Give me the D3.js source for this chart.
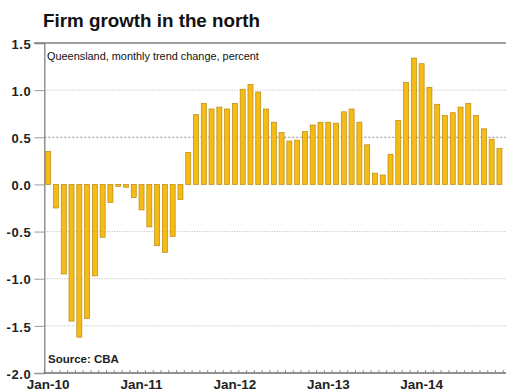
<!DOCTYPE html>
<html>
<head>
<meta charset="utf-8">
<script src="https://cdn.jsdelivr.net/npm/d3@7/dist/d3.min.js"></script>
<style>
  html, body { margin: 0; padding: 0; background: #fff; }
  svg { display: block; font-family: "Liberation Sans", Arial, sans-serif; }
</style>
</head>
<body>
<svg id="chart" width="506" height="392"></svg>
<script>
// Queensland firm growth, monthly trend change (%), Jan-10 .. Nov-14
const months = d3.timeMonths(new Date(2010, 0, 1), new Date(2014, 11, 1));
const values = [
  0.35, -0.25, -0.95, -1.45, -1.62, -1.42, -0.97, -0.56, -0.19, -0.02, -0.03, -0.14,
  -0.27, -0.45, -0.65, -0.72, -0.55, -0.16, 0.34, 0.74, 0.86, 0.80, 0.82, 0.80,
  0.86, 1.01, 1.06, 0.98, 0.80, 0.66, 0.55, 0.46, 0.47, 0.56, 0.63, 0.66,
  0.66, 0.65, 0.77, 0.80, 0.66, 0.42, 0.12, 0.10, 0.32, 0.68, 1.08, 1.34,
  1.28, 1.03, 0.85, 0.73, 0.76, 0.82, 0.86, 0.73, 0.59, 0.48, 0.38
];
const yTicks = [1.5, 1.0, 0.5, 0.0, -0.5, -1.0, -1.5, -2.0];
const gridValues = [1.0, 0.5, -0.5, -1.0, -1.5];
const monthLabel = d3.timeFormat("%b-%y");

const titleText = "Firm growth in the north";
const subtitleText = "Queensland, monthly trend change, percent";
const sourceText = "Source: CBA";

const svg = d3.select("#chart");
const plotLeft = 44.3, plotTop = 43, plotBottom = 373;
const step = 7.78;
const plotRight = plotLeft + step * months.length;

const x = d3.scaleBand()
  .domain(months.map((d, i) => i))
  .range([plotLeft, plotRight])
  .paddingInner(0.357)
  .paddingOuter(0.1785);

const y = d3.scaleLinear().domain([-2, 1.5]).range([plotBottom, plotTop]);

// title
svg.append("text")
  .attr("x", 43).attr("y", 27)
  .attr("font-size", 18.8).attr("font-weight", "bold").attr("fill", "#111")
  .text(titleText);

// dotted gridlines
svg.append("g").selectAll("line").data(gridValues).join("line")
  .attr("x1", plotLeft).attr("x2", 506)
  .attr("y1", d => y(d)).attr("y2", d => y(d))
  .attr("stroke", d => d === 0.5 ? "#8a8a8a" : "#b8b8b8")
  .attr("stroke-width", 1)
  .attr("stroke-dasharray", d => d === 0.5 ? "2,2" : "1,1.5");

// bars
svg.append("g").selectAll("rect").data(values).join("rect")
  .attr("x", (d, i) => x(i))
  .attr("width", x.bandwidth())
  .attr("y", d => y(Math.max(0, d)))
  .attr("height", d => Math.abs(y(d) - y(0)))
  .attr("fill", "#F6BB14")
  .attr("stroke", "#B8890D")
  .attr("stroke-width", 0.7);

// y axis with outside ticks and bold labels (plain hyphen for negatives)
const yAxis = d3.axisLeft(y).tickValues(yTicks).tickSize(10).tickPadding(3)
  .tickFormat(d => d.toFixed(1));
const gy = svg.append("g").attr("transform", `translate(${plotLeft},0)`).call(yAxis);
gy.select(".domain").attr("stroke", "#808080").attr("stroke-width", 1.3);
gy.selectAll(".tick line").attr("stroke", "#9a9a9a").attr("stroke-width", 1);
gy.selectAll(".tick text")
  .attr("font-size", 13).attr("font-weight", "bold").attr("fill", "#222")
  .attr("font-family", "Liberation Sans, Arial, sans-serif")
  .attr("letter-spacing", 0.6)
  .attr("dy", "0.4em");

// top frame line
svg.append("line")
  .attr("x1", plotLeft - 10).attr("x2", 506)
  .attr("y1", plotTop).attr("y2", plotTop)
  .attr("stroke", "#808080").attr("stroke-width", 1.3);

// x axis: monthly inner ticks, labels each January
const gx = svg.append("g");
gx.append("line")
  .attr("x1", plotLeft).attr("x2", 506)
  .attr("y1", plotBottom).attr("y2", plotBottom)
  .attr("stroke", "#6e6e6e").attr("stroke-width", 1.3);
gx.selectAll("line.mt").data(d3.range(months.length + 1)).join("line")
  .attr("class", "mt")
  .attr("x1", i => plotLeft + i * step).attr("x2", i => plotLeft + i * step)
  .attr("y1", plotBottom).attr("y2", plotBottom - 3)
  .attr("stroke", "#7a7a7a").attr("stroke-width", 0.8);
const janIdx = months.map((d, i) => i).filter(i => months[i].getMonth() === 0);
gx.selectAll("text").data(janIdx).join("text")
  .attr("x", i => x(i) + x.bandwidth() / 2)
  .attr("y", 389)
  .attr("text-anchor", "middle")
  .attr("font-size", 13.5).attr("font-weight", "bold").attr("fill", "#222")
  .text(i => monthLabel(months[i]));

// subtitle and source note
svg.append("text")
  .attr("x", 47).attr("y", 59.5)
  .attr("font-size", 10.9).attr("fill", "#111")
  .text(subtitleText);
svg.append("text")
  .attr("x", 48).attr("y", 363)
  .attr("font-size", 11.5).attr("font-weight", "bold").attr("fill", "#222")
  .text(sourceText);
</script>
</body>
</html>
